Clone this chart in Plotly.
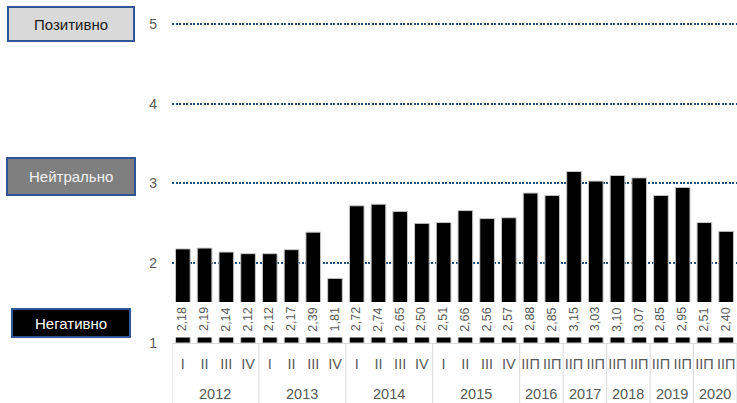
import plotly.graph_objects as go

# Quarterly / half-year index values
years = ["2012", "2013", "2014", "2015", "2016", "2017", "2018", "2019", "2020"]
periods_per_year = [4, 4, 4, 4, 2, 2, 2, 2, 2]
quarter_labels = ["I", "II", "III", "IV"]
half_labels = ["IIП", "IIП"]
values = [2.18, 2.19, 2.14, 2.12,
          2.12, 2.17, 2.39, 1.81,
          2.72, 2.74, 2.65, 2.50,
          2.51, 2.66, 2.56, 2.57,
          2.88, 2.85,
          3.15, 3.03,
          3.10, 3.07,
          2.85, 2.95,
          2.51, 2.40]
y_ticks = [1, 2, 3, 4, 5]
scale_labels = ["Позитивно", "Нейтрально", "Негативно"]

W, H = 737, 403
ML, MR, MT, MB = 172, 0, 4, 60
PW, PH = W - ML - MR, H - MT - MB

FONT = "Liberation Sans, Arial, sans-serif"
GREY_TXT = "#595959"


def px_x(px):
    return (px - ML) / PW


def px_y(py):
    return (H - MB - py) / PH


period_text = []
for n in periods_per_year:
    period_text += quarter_labels if n == 4 else half_labels
x_idx = list(range(len(values)))

fig = go.Figure()
fig.add_trace(go.Bar(
    x=x_idx,
    y=[v - 1 for v in values],
    base=1,
    marker=dict(color="#000000", line=dict(color="#c8c8c8", width=1)),
    hoverinfo="skip",
))

shapes = []
annotations = []

# white band that carries the value labels
shapes.append(dict(type="rect", xref="x", yref="y", x0=-0.5, x1=len(values) - 0.5,
                   y0=1.069, y1=1.514, fillcolor="white", line=dict(width=0),
                   layer="above"))
for i, v in enumerate(values):
    annotations.append(dict(x=i, y=1.295, xref="x", yref="y",
                            text=f"{v:.2f}".replace(".", ","), textangle=-90,
                            showarrow=False,
                            font=dict(family=FONT, size=12.5, color=GREY_TXT)))

# year groups: dividers and labels
start = 0
bounds = [-0.5]
for yr, n in zip(years, periods_per_year):
    end = start + n
    bounds.append(end - 0.5)
    annotations.append(dict(x=(start + end - 1) / 2, y=px_y(394), xref="x", yref="paper",
                            text=yr, showarrow=False, yanchor="middle",
                            font=dict(family=FONT, size=14.5, color=GREY_TXT)))
    start = end
for b in bounds:
    shapes.append(dict(type="line", xref="x", yref="paper", x0=b, x1=b,
                       y0=0, y1=px_y(403), line=dict(color="#d9d9d9", width=1)))

# scale boxes on the left
boxes = [
    (scale_labels[0], 8, 134, 7, 41, "#d9d9d9", "#1a1a1a"),
    (scale_labels[1], 7, 135, 158, 195, "#7f7f7f", "#f2f2f2"),
    (scale_labels[2], 12, 130, 309, 337, "#000000", "#ffffff"),
]
for text, x0, x1, y0, y1, fill, tc in boxes:
    shapes.append(dict(type="rect", xref="paper", yref="paper",
                       x0=px_x(x0), x1=px_x(x1), y0=px_y(y1), y1=px_y(y0),
                       fillcolor=fill, line=dict(color="#2f5597", width=2)))
    annotations.append(dict(x=px_x((x0 + x1) / 2), y=px_y((y0 + y1) / 2),
                            xref="paper", yref="paper", text=text, showarrow=False,
                            xanchor="center", yanchor="middle",
                            font=dict(family=FONT, size=15, color=tc)))

fig.update_layout(
    width=W, height=H,
    margin=dict(l=ML, r=MR, t=MT, b=MB),
    paper_bgcolor="white", plot_bgcolor="white",
    showlegend=False,
    bargap=0.325,
    shapes=shapes,
    annotations=annotations,
    xaxis=dict(range=[-0.5, len(values) - 0.5], tickmode="array", tickvals=x_idx,
               ticktext=period_text, ticks="", showgrid=False, zeroline=False,
               showline=True, linecolor="#d9d9d9", linewidth=1, tickangle=0,
               tickfont=dict(family=FONT, size=14.5, color=GREY_TXT),
               ticklabelstandoff=8),
    yaxis=dict(range=[1, 5.25], tickmode="array", tickvals=y_ticks,
               ticktext=[str(t) for t in y_ticks], showgrid=True,
               gridcolor="#1f4e79", gridwidth=2, griddash="2px,1.5px",
               zeroline=False, showline=False, ticks="",
               tickfont=dict(family=FONT, size=14, color=GREY_TXT),
               ticklabelstandoff=14),
)

fig.write_html("out.html")
